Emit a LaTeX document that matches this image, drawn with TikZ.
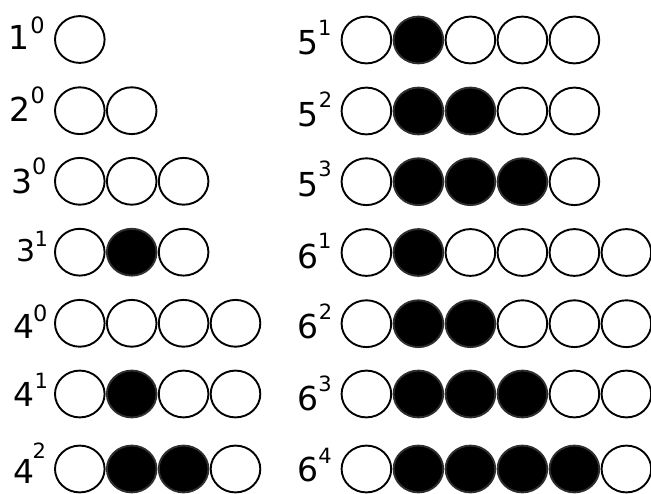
\documentclass[tikz,border=0pt]{standalone}
\usepackage{fontspec}
\setmainfont{DejaVu Sans}
\usetikzlibrary{shapes.geometric}
\tikzset{
  bead/.style={ellipse, draw=black, line width=1.9pt, minimum width=49.6pt, minimum height=46.8pt, inner sep=0pt, fill=white},
  fullbead/.style={bead, fill=black, draw=black!82},
  basenum/.style={inner sep=0pt, anchor=base, font=\fontsize{33}{40}\selectfont},
  smallbase/.style={inner sep=0pt, anchor=base, font=\fontsize{30}{36}\selectfont},
  supbig/.style={inner sep=0pt, anchor=base, font=\fontsize{22.5}{27}\selectfont},
  supnum/.style={inner sep=0pt, anchor=base, font=\fontsize{21}{25}\selectfont},
}
\begin{document}
\begin{tikzpicture}[x=1pt,y=-1pt]
\useasboundingbox (0,0) rectangle (651,494);
% beads: name / x0 / y / count / black count
\foreach \nm/\xo/\yo/\n/\k/\dx in {
  a/79.8/39.5/1/0/51.9, b/79.8/110.7/2/0/51.9, c/79.8/181.3/3/0/51.9,
  d/79.8/252.2/3/1/51.9, e/79.8/323.3/4/0/51.9, f/79.8/394/4/1/51.9,
  g/79.8/469/4/2/51.9,
  h/366.4/40/5/1/52.0, i/366.4/111/5/2/52.0, j/366.4/181.7/5/3/52.0,
  k/366.4/252.5/6/1/52.0, l/366.4/323.7/6/2/52.0, m/366.4/394/6/3/52.0,
  n/366.4/469/6/4/52.0}{
  \foreach \q in {1,...,\n}{
    \pgfmathsetmacro\cx{\xo+(\q-1)*\dx}
    \pgfmathtruncatemacro\isblk{and(\q>1,\q<=\k+1)}
    \ifnum\isblk=1
      \node[fullbead] (\nm-\q) at (\cx,\yo) {};
    \else
      \node[bead] (\nm-\q) at (\cx,\yo) {};
    \fi
  }
}
% left labels
\node[basenum] (la) at (18.8,50) {1};
\node[supbig] (sa) at (37.5,33.3) {0};
\node[basenum] (lb) at (20.3,121.7) {2};
\node[supbig] (sb) at (37.8,103.3) {0};
\node[basenum] (lc) at (22.2,193.3) {3};
\node[supbig] (sc) at (39.2,175) {0};
\node[smallbase] (ld) at (25.8,261.7) {3};
\node[supnum] (sd) at (41.3,246.7) {1};
\node[basenum] (le) at (23.7,338.3) {4};
\node[supbig] (se) at (40.2,321.7) {0};
\node[basenum] (lf) at (23.7,406.7) {4};
\node[supnum] (sf) at (41.3,388.3) {1};
\node[basenum] (lg) at (23.7,483.3) {4};
\node[supnum] (sg) at (39.2,458.3) {2};
% right labels
\node[basenum] (lh) at (308.3,55) {5};
\node[supnum] (sh) at (324.7,36) {1};
\node[basenum] (li) at (308.3,126.7) {5};
\node[supnum] (si) at (325.5,107.3) {2};
\node[basenum] (lj) at (308.3,196.7) {5};
\node[supnum] (sj) at (325,176.7) {3};
\node[basenum] (lk) at (308.3,268.3) {6};
\node[supnum] (sk) at (324.7,248.3) {1};
\node[basenum] (ll) at (308.3,338.3) {6};
\node[supnum] (sl) at (325.5,320) {2};
\node[basenum] (lm) at (308.3,410) {6};
\node[supnum] (sm) at (325,391.7) {3};
\node[basenum] (ln) at (308.3,481.7) {6};
\node[supnum] (sn) at (325,463.3) {4};
\end{tikzpicture}
\end{document}
